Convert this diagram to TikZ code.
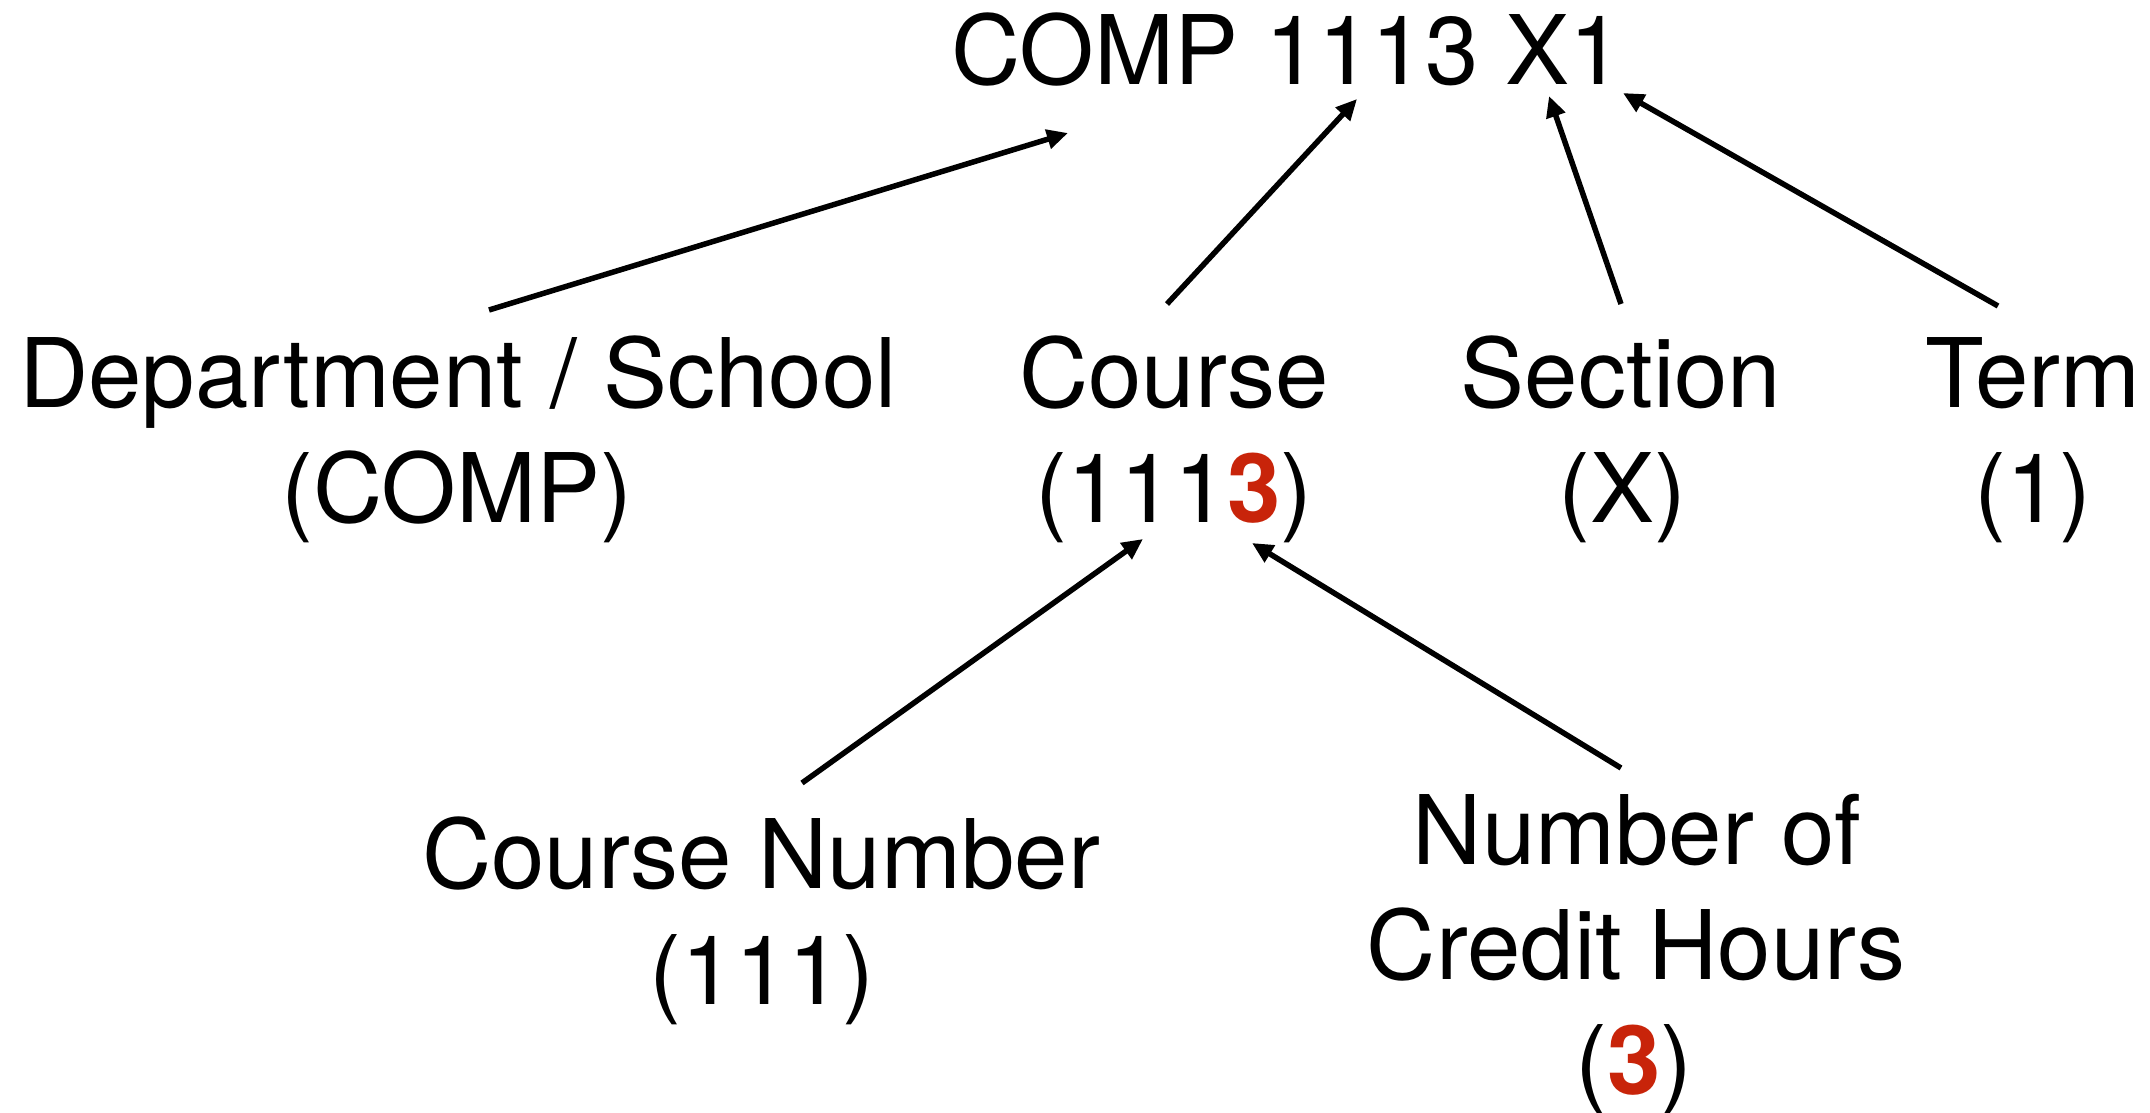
\documentclass[tikz,border=0pt]{standalone}
\usepackage{fontspec}
\setmainfont{TeX Gyre Heros}
\usetikzlibrary{arrows.meta}
\definecolor{hired}{RGB}{200,36,10}
\newcommand{\hlthree}{\textbf{\color{hired}3}}
\begin{document}
\begin{tikzpicture}[x=1pt,y=-1pt,
  lbl/.style={anchor=base,inner sep=0pt,font=\fontsize{96}{115}\selectfont},
  conn/.style={line width=5.5pt,-{Triangle[length=21pt,width=19pt]}}]
\useasboundingbox (0,0) rectangle (2150,1113);
% labels
\node[lbl] (title) at (1287,85) {COMP 1113 X1};
\node[lbl] (dept1) at (458,407) {Department / School};
\node[lbl] (dept2) at (457,522) {(COMP)};
\node[lbl] (course1) at (1174,407) {Course};
\node[lbl] (course2) at (1174,522) {(111\hlthree)};
\node[lbl] (sect1) at (1621,407) {Section};
\node[lbl] (sect2) at (1622,522) {(X)};
\node[lbl] (term1) at (2033,407) {Term};
\node[lbl] (term2) at (2033,522) {(1)};
\node[lbl] (num1) at (761,888) {Course Number};
\node[lbl] (num2) at (762,1004) {(111)};
\node[lbl] (cred1) at (1637,864) {Number of};
\node[lbl] (cred2) at (1636,979) {Credit Hours};
\node[lbl] (cred3) at (1634,1094) {(\hlthree)};
% connector end points
\coordinate (dS) at (489,310);  \coordinate (dE) at (1068,133);
\coordinate (cS) at (1167,304); \coordinate (cE) at (1357,99);
\coordinate (sS) at (1621,304); \coordinate (sE) at (1549,96);
\coordinate (tS) at (1998,306); \coordinate (tE) at (1623,93);
\coordinate (nS) at (802,783);  \coordinate (nE) at (1143,539);
\coordinate (hS) at (1621,768); \coordinate (hE) at (1252,543);
\draw[conn] (dS) -- (dE);
\draw[conn] (cS) -- (cE);
\draw[conn] (sS) -- (sE);
\draw[conn] (tS) -- (tE);
\draw[conn] (nS) -- (nE);
\draw[conn] (hS) -- (hE);
\end{tikzpicture}
\end{document}
